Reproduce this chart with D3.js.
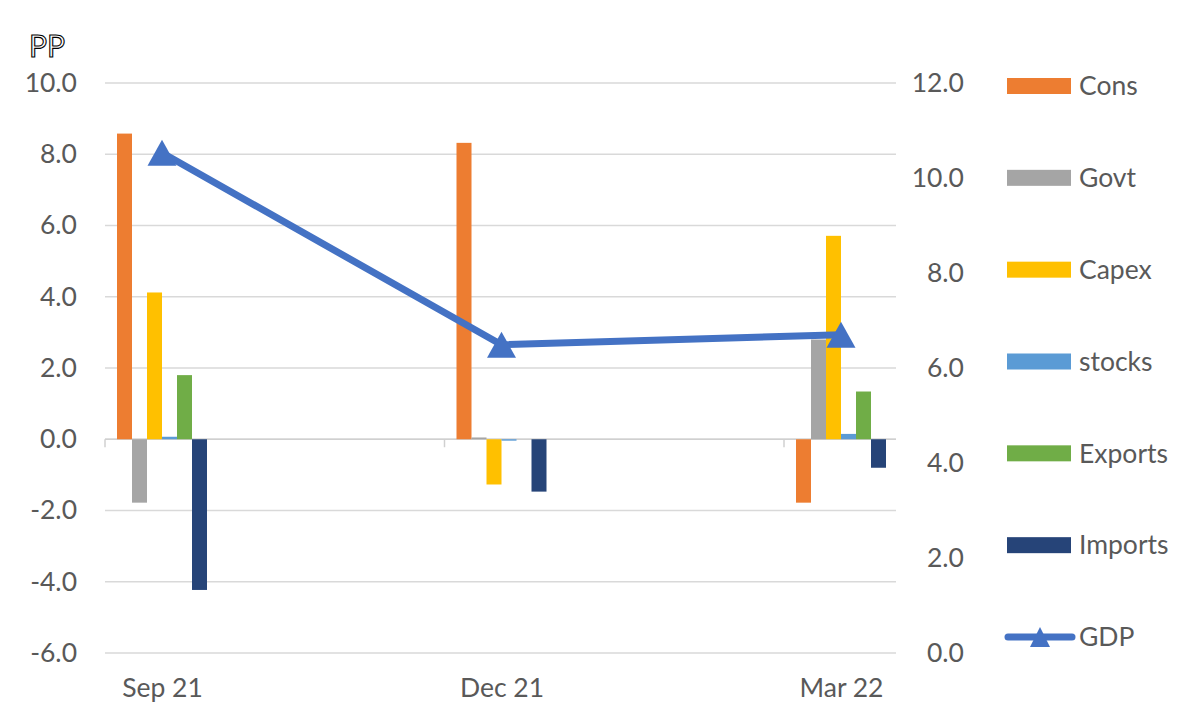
<!DOCTYPE html>
<html>
<head>
<meta charset="utf-8">
<script src="https://cdn.jsdelivr.net/npm/d3@7"></script>
<style>
  html, body { margin: 0; padding: 0; background: #fff; }
  text { font-family: Lato, "Open Sans", sans-serif; }
</style>
</head>
<body>
<div id="chart"></div>
<script>
// chart data
const quarters = ["Sep 21", "Dec 21", "Mar 22"];
const seriesNames = ["Cons", "Govt", "Capex", "stocks", "Exports", "Imports"];
const cons    = [8.58, 8.32, -1.78];
const govt    = [-1.78, 0.05, 2.80];
const capex   = [4.12, -1.27, 5.71];
const stocks  = [0.07, -0.04, 0.15];
const exports = [1.80, 0.00, 1.34];
const imports = [-4.23, -1.47, -0.80];
const gdp     = [10.53, 6.49, 6.70];
const leftTicks  = [-6, -4, -2, 0, 2, 4, 6, 8, 10];
const rightTicks = [0, 2, 4, 6, 8, 10, 12];

const seriesValues = [cons, govt, capex, stocks, exports, imports];
const colors = ["#ED7D31", "#A5A5A5", "#FFC000", "#5B9BD5", "#70AD47", "#264478"];
const lineColor = "#4472C4";
const textColor = "#595959";
const fontSize = 26.5;

const width = 1200, height = 720;
const plot = { left: 105, right: 896, top: 83, bottom: 653 };

const svg = d3.select("#chart").append("svg")
    .attr("width", width)
    .attr("height", height);

// scales
const x = d3.scalePoint()
    .domain(quarters)
    .range([162, 841]);

const xInner = d3.scaleBand()
    .domain(seriesNames)
    .range([-45, 45]);

const yLeft = d3.scaleLinear()
    .domain([-6, 10])
    .range([plot.bottom, plot.top]);

const yRight = d3.scaleLinear()
    .domain([0, 12])
    .range([plot.bottom, plot.top]);

// gridlines
svg.append("g")
    .selectAll("line")
    .data(leftTicks)
    .enter()
    .append("line")
    .attr("x1", plot.left)
    .attr("x2", plot.right)
    .attr("y1", d => yLeft(d))
    .attr("y2", d => yLeft(d))
    .attr("stroke", "#D9D9D9")
    .attr("stroke-width", 1.5);

// left axis
const leftAxis = svg.append("g")
    .attr("transform", "translate(77,0)")
    .call(d3.axisLeft(yLeft).tickValues(leftTicks).tickSize(0).tickPadding(0));
leftAxis.select(".domain").remove();
leftAxis.selectAll("text")
    .attr("font-size", fontSize)
    .attr("fill", textColor)
    .attr("font-family", "Lato, sans-serif")
    .text(d => d3.format(".1f")(d).replace("−", "-"));

// right axis
const rightAxis = svg.append("g")
    .attr("transform", "translate(964,0)")
    .call(d3.axisLeft(yRight).tickValues(rightTicks).tickSize(0).tickPadding(0).tickFormat(d3.format(".1f")));
rightAxis.select(".domain").remove();
rightAxis.selectAll("text")
    .attr("font-size", fontSize)
    .attr("fill", textColor)
    .attr("font-family", "Lato, sans-serif");

// category axis line and tick marks
svg.append("line")
    .attr("x1", plot.left)
    .attr("x2", plot.right)
    .attr("y1", yLeft(0))
    .attr("y2", yLeft(0))
    .attr("stroke", "#D0D0D0")
    .attr("stroke-width", 1.5);

svg.append("g")
    .selectAll("line")
    .data(quarters)
    .enter()
    .append("line")
    .attr("x1", d => x(d) - 57)
    .attr("x2", d => x(d) - 57)
    .attr("y1", yLeft(0))
    .attr("y2", yLeft(0) + 8)
    .attr("stroke", "#D0D0D0")
    .attr("stroke-width", 1.5);

const xAxis = svg.append("g")
    .attr("transform", "translate(0,678)")
    .call(d3.axisBottom(x).tickSize(0).tickPadding(0));
xAxis.select(".domain").remove();
xAxis.selectAll("text")
    .attr("font-size", fontSize)
    .attr("fill", textColor)
    .attr("font-family", "Lato, sans-serif");

// bars
const groups = svg.append("g")
    .selectAll("g")
    .data(quarters)
    .enter()
    .append("g")
    .attr("transform", d => `translate(${x(d)},0)`);

groups.selectAll("rect")
    .data((q, i) => seriesNames.map((s, j) => ({ s, v: seriesValues[j][i], c: colors[j] })))
    .enter()
    .append("rect")
    .attr("x", d => xInner(d.s))
    .attr("width", xInner.bandwidth())
    .attr("y", d => yLeft(Math.max(0, d.v)))
    .attr("height", d => Math.abs(yLeft(d.v) - yLeft(0)))
    .attr("fill", d => d.c);

// GDP line
const line = d3.line()
    .x((d, i) => x(quarters[i]))
    .y(d => yRight(d));

svg.append("path")
    .datum(gdp)
    .attr("d", line)
    .attr("fill", "none")
    .attr("stroke", lineColor)
    .attr("stroke-width", 7)
    .attr("stroke-linejoin", "round")
    .attr("stroke-linecap", "round");

function triangle(w, h) {
    return `M0,${-h / 2}L${w / 2},${h / 2}L${-w / 2},${h / 2}Z`;
}

svg.append("g")
    .selectAll("path")
    .data(gdp)
    .enter()
    .append("path")
    .attr("d", triangle(29, 26))
    .attr("transform", (d, i) => `translate(${x(quarters[i])},${yRight(d)})`)
    .attr("fill", lineColor);

// legend
const legendY = d3.scalePoint()
    .domain(seriesNames.concat(["GDP"]))
    .range([86, 637]);

const legend = svg.append("g");

legend.selectAll("rect")
    .data(seriesNames)
    .enter()
    .append("rect")
    .attr("x", 1007)
    .attr("y", d => legendY(d) - 8)
    .attr("width", 64)
    .attr("height", 16)
    .attr("fill", (d, i) => colors[i]);

legend.append("line")
    .attr("x1", 1008)
    .attr("x2", 1072)
    .attr("y1", legendY("GDP"))
    .attr("y2", legendY("GDP"))
    .attr("stroke", lineColor)
    .attr("stroke-width", 7)
    .attr("stroke-linecap", "round");

legend.append("path")
    .attr("d", triangle(20, 20))
    .attr("transform", `translate(1040,${legendY("GDP")})`)
    .attr("fill", lineColor);

legend.selectAll("text")
    .data(seriesNames.concat(["GDP"]))
    .enter()
    .append("text")
    .attr("x", 1079)
    .attr("y", d => legendY(d))
    .attr("dy", "0.35em")
    .attr("font-size", fontSize)
    .attr("fill", textColor)
    .text(d => d);

// unit label
svg.append("text")
    .attr("x", 29)
    .attr("y", 57)
    .attr("font-size", 30)
    .attr("fill", "#fff")
    .attr("stroke", "#000")
    .attr("stroke-width", 1.1)
    .text("PP");
</script>
</body>
</html>
